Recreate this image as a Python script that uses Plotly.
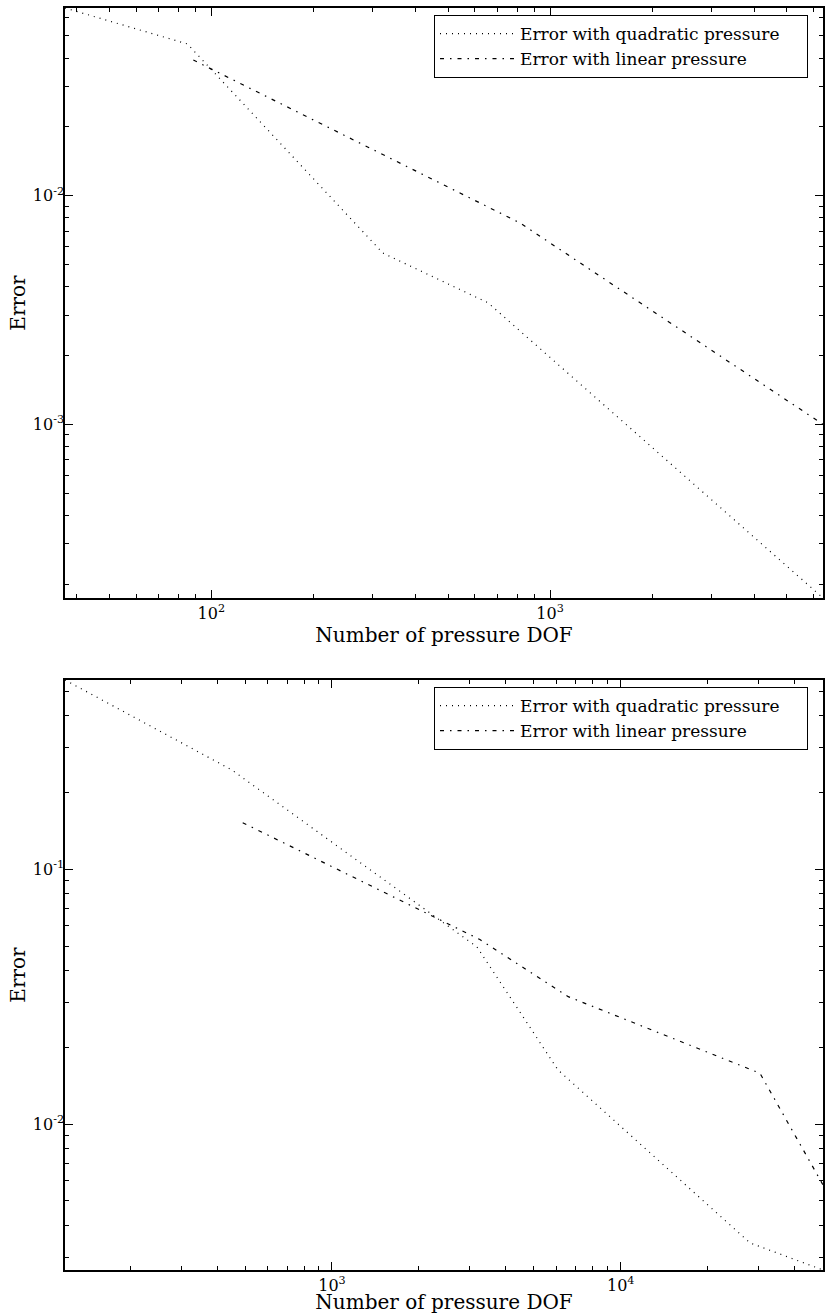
import math
import plotly.graph_objects as go

# ---- data ----
# top panel
top_quad_dof = [37, 85, 321, 656, 6390]
top_quad_err = [0.0662, 0.0461, 0.00561, 0.0034, 1.74e-4]
top_lin_dof = [88.5, 815, 6390]
top_lin_err = [0.0392, 0.0076, 0.001]

# bottom panel
bot_quad_dof = [118.9, 450.5, 3178, 6064, 28050, 50210]
bot_quad_err = [0.5525, 0.245, 0.0496, 0.01633, 0.003423, 0.00268]
bot_lin_dof = [490.6, 3254, 6582, 30370, 50210]
bot_lin_err = [0.1523, 0.0530, 0.03165, 0.01585, 0.00578]

names = ["Error with quadratic pressure", "Error with linear pressure"]

top_xticks = [1e2, 1e3]
top_xtext = ["10<sup>2</sup>", "10<sup>3</sup>"]
top_yticks = [1e-3, 1e-2]
top_ytext = ["10<sup>-3</sup>", "10<sup>-2</sup>"]
bot_xticks = [1e3, 1e4]
bot_xtext = ["10<sup>3</sup>", "10<sup>4</sup>"]
bot_yticks = [1e-2, 1e-1]
bot_ytext = ["10<sup>-2</sup>", "10<sup>-1</sup>"]

W, H = 825, 1314
FONT = "DejaVu Serif"
PAD = "\u00a0" * 4  # right padding inside the legend box

def minor_vals(lo_exp, hi_exp):
    v = []
    for d in range(lo_exp, hi_exp + 1):
        for k in range(2, 10):
            v.append(k * 10 ** d)
    return v

fig = go.Figure()

dot_style = "1px,5px"
dashdot_style = "4px,6px,1.5px,6px"

fig.add_trace(go.Scatter(x=top_quad_dof, y=top_quad_err, mode="lines", name=names[0] + PAD,
                         line=dict(color="black", width=1.2, dash=dot_style),
                         xaxis="x", yaxis="y", legend="legend"))
fig.add_trace(go.Scatter(x=top_lin_dof, y=top_lin_err, mode="lines", name=names[1] + PAD,
                         line=dict(color="black", width=1.2, dash=dashdot_style),
                         xaxis="x", yaxis="y", legend="legend"))
fig.add_trace(go.Scatter(x=bot_quad_dof, y=bot_quad_err, mode="lines", name=names[0] + PAD,
                         line=dict(color="black", width=1.2, dash=dot_style),
                         xaxis="x2", yaxis="y2", legend="legend2"))
fig.add_trace(go.Scatter(x=bot_lin_dof, y=bot_lin_err, mode="lines", name=names[1] + PAD,
                         line=dict(color="black", width=1.2, dash=dashdot_style),
                         xaxis="x2", yaxis="y2", legend="legend2"))

xdom = [65 / W, 823 / W]
top_dom = [1 - 598 / H, 1 - 8 / H]
bot_dom = [1 - 1270 / H, 1 - 680 / H]

TITLE_FONT = dict(family=FONT, size=20, color="black")

def axis_common():
    return dict(
        type="log", showgrid=False, zeroline=False,
        showline=True, linecolor="black", linewidth=1.5, mirror="allticks",
        ticks="inside", ticklen=8, tickwidth=1, tickcolor="black",
        tickfont=dict(family=FONT, size=16, color="black"),
        tickmode="array",
        minor=dict(ticks="inside", ticklen=4, tickwidth=1, tickcolor="black", showgrid=False),
    )

xa = axis_common()
xa.update(domain=xdom, anchor="y", range=[math.log10(37), math.log10(6390)],
          tickvals=top_xticks, ticktext=top_xtext,
          title=dict(text="Number of pressure DOF", font=TITLE_FONT, standoff=2))
xa["minor"]["tickvals"] = minor_vals(1, 3)
ya = axis_common()
ya.update(domain=top_dom, anchor="x", range=[math.log10(1.74e-4), math.log10(0.0662)],
          tickvals=top_yticks, ticktext=top_ytext, ticklabelstandoff=-4,
          title=dict(text="Error", font=TITLE_FONT, standoff=2))
ya["minor"]["tickvals"] = minor_vals(-4, -2)

xa2 = axis_common()
xa2.update(domain=xdom, anchor="y2", range=[math.log10(118.9), math.log10(50210)],
           tickvals=bot_xticks, ticktext=bot_xtext,
           title=dict(text="Number of pressure DOF", font=TITLE_FONT, standoff=3))
xa2["minor"]["tickvals"] = minor_vals(2, 4)
ya2 = axis_common()
ya2.update(domain=bot_dom, anchor="x2", range=[math.log10(0.00268), math.log10(0.5525)],
           tickvals=bot_yticks, ticktext=bot_ytext, ticklabelstandoff=-4,
           title=dict(text="Error", font=TITLE_FONT, standoff=2))
ya2["minor"]["tickvals"] = minor_vals(-3, -1)

legend_common = dict(
    xanchor="left", yanchor="top",
    bgcolor="white", bordercolor="black", borderwidth=1,
    font=dict(family=FONT, size=17, color="black"),
    itemwidth=75, tracegroupgap=0,
)

fig.update_layout(
    width=W, height=H,
    margin=dict(l=0, r=0, t=0, b=0),
    paper_bgcolor="white", plot_bgcolor="white",
    font=dict(family=FONT, color="black"),
    xaxis=xa, yaxis=ya, xaxis2=xa2, yaxis2=ya2,
    legend=dict(x=434 / W, y=1 - 15 / H, **legend_common),
    legend2=dict(x=434 / W, y=1 - 687 / H, **legend_common),
)

fig.write_html("out.html")
